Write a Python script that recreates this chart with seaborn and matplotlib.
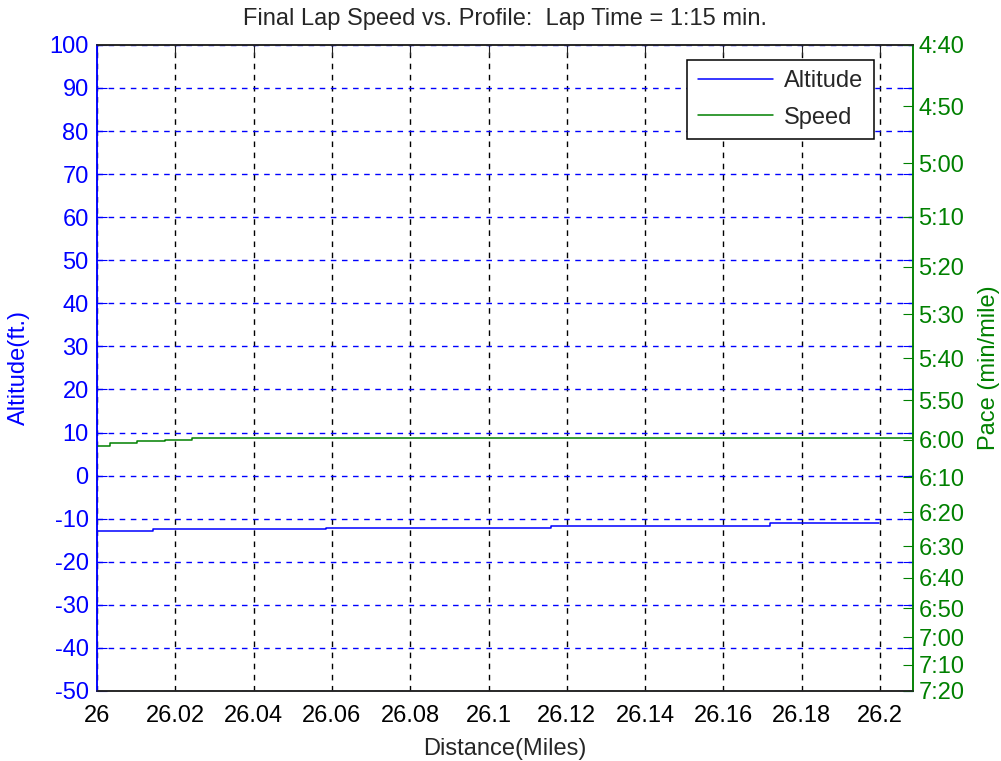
import matplotlib.pyplot as plt
import seaborn as sns
import pandas as pd

sns.set_style("white")
plt.rcParams['font.family'] = ['Liberation Sans', 'DejaVu Sans']

# altitude profile (stepped GPS altitude)
alt_dist = [26.0, 26.0143, 26.0143, 26.0585, 26.0585, 26.116, 26.116, 26.172, 26.172, 26.1997]
alt_ft = [-12.8, -12.8, -12.4, -12.4, -12.1, -12.1, -11.6, -11.6, -11.0, -11.0]

# speed (mph), plotted on the pace axis
spd_dist = [26.0, 26.0033, 26.0033, 26.0102, 26.0102, 26.0174, 26.0174, 26.0243, 26.0243, 26.2084]
spd_mph = [9.955, 9.955, 9.974, 9.974, 9.989, 9.989, 9.999, 9.999, 10.01, 10.01]

x_ticks = [26.0, 26.02, 26.04, 26.06, 26.08, 26.1, 26.12, 26.14, 26.16, 26.18, 26.2]
x_labels = ['26', '26.02', '26.04', '26.06', '26.08', '26.1', '26.12', '26.14', '26.16', '26.18', '26.2']
alt_ticks = list(range(-50, 101, 10))
pace_labels = ['4:40', '4:50', '5:00', '5:10', '5:20', '5:30', '5:40', '5:50', '6:00',
               '6:10', '6:20', '6:30', '6:40', '6:50', '7:00', '7:10', '7:20']

def pace_to_mph(s):
    m, sec = s.split(':')
    return 60.0 / (int(m) + int(sec) / 60.0)

pace_mph = [pace_to_mph(p) for p in pace_labels]

df_alt = pd.DataFrame({'Distance': alt_dist, 'Altitude': alt_ft})
df_spd = pd.DataFrame({'Distance': spd_dist, 'Speed': spd_mph})

blue = '#0000ff'
green = '#008000'
fs = 17

fig = plt.figure(figsize=(10.01, 7.61), dpi=100)
ax = fig.add_axes([0.0969, 0.092, 0.8152, 0.849])
ax2 = ax.twinx()

sns.lineplot(data=df_alt, x='Distance', y='Altitude', ax=ax, color=blue, lw=1.1,
             sort=False, estimator=None, label='Altitude', legend=False)
sns.lineplot(data=df_spd, x='Distance', y='Speed', ax=ax2, color=green, lw=1.1,
             sort=False, estimator=None, label='Speed', legend=False)

ax.set_xlim(26.0, 26.2084)
ax.set_ylim(-50, 100)
ax.set_xticks(x_ticks)
ax.set_xticklabels(x_labels, fontsize=fs)
ax.set_yticks(alt_ticks)
ax.set_yticklabels([str(t) for t in alt_ticks], fontsize=fs, color=blue)
ax.tick_params(axis='x', direction='in', length=7, top=True, colors='#222222', labelcolor='black', pad=10)
ax.tick_params(axis='y', direction='in', length=7, right=True, colors=blue, labelcolor=blue, pad=6)

ax.xaxis.grid(True, color='black', ls=(0, (4, 4)), lw=1)
ax.yaxis.grid(True, color=blue, ls=(0, (4, 4)), lw=1)

ax2.set_ylim(pace_to_mph('7:20'), pace_to_mph('4:40'))
ax2.set_yticks(pace_mph)
ax2.set_yticklabels(pace_labels, fontsize=fs, color=green)
ax2.tick_params(axis='y', direction='in', length=7, colors=green, labelcolor=green, pad=4)

for a in (ax, ax2):
    a.spines['top'].set_color('#222222')
    a.spines['bottom'].set_color('#222222')
    a.spines['left'].set_color(blue)
    a.spines['right'].set_color(green)
    for s in a.spines.values():
        s.set_linewidth(1.1)

ax.set_xlabel('Distance(Miles)', fontsize=fs, labelpad=8)
ax.set_ylabel('Altitude(ft.)', fontsize=fs, color=blue, labelpad=14)
ax2.set_ylabel('Pace (min/mile)', fontsize=fs, color=green, labelpad=10)
ax.set_title('Final Lap Speed vs. Profile:  Lap Time = 1:15 min.', fontsize=fs, pad=14)

h1, l1 = ax.get_legend_handles_labels()
h2, l2 = ax2.get_legend_handles_labels()
leg = ax2.legend(h1 + h2, l1 + l2, loc='upper right', bbox_to_anchor=(0.952, 0.977),
                 borderaxespad=0, fontsize=fs, frameon=True, fancybox=False, framealpha=1,
                 edgecolor='black', handlelength=3.2, handletextpad=0.45,
                 borderpad=0.45, labelspacing=0.6)
leg.get_frame().set_linewidth(1.1)

fig.savefig('out.png', dpi=100)
